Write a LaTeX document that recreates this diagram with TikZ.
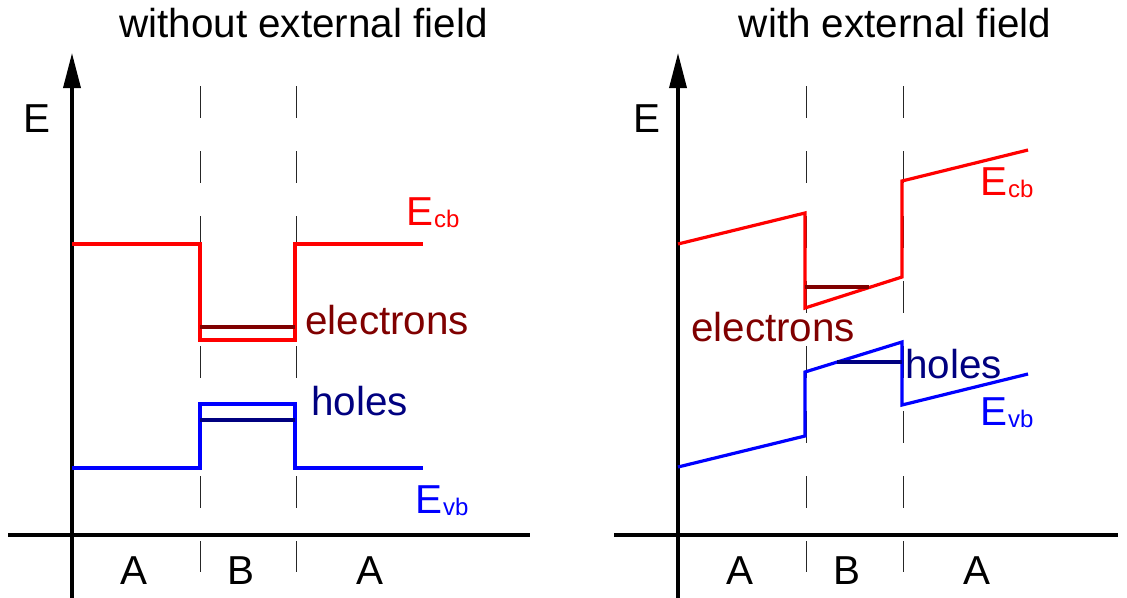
\documentclass[tikz,border=0pt]{standalone}
\usepackage{fontspec}
\setmainfont{Liberation Sans}
\usetikzlibrary{arrows.meta}
\definecolor{cbred}{RGB}{255,0,0}
\definecolor{elecred}{RGB}{128,0,0}
\definecolor{vbblue}{RGB}{0,0,255}
\definecolor{holeblue}{RGB}{0,0,128}
\newcommand{\bandE}[1]{E\kern1pt{\fontsize{24}{24}\selectfont\raisebox{-2pt}{#1}}}

\begin{document}
\begin{tikzpicture}[x=1pt,y=-1pt,
  lab/.style={inner sep=0pt,font=\fontsize{40.4}{48}\selectfont},
  axis/.style={line width=3.5pt},
  sep/.style={line width=1pt,black!85,dash pattern=on 32pt off 33pt},
  band/.style={line width=3.2pt,line join=miter}]
\useasboundingbox (0,0) rectangle (1127,597);
% Titles
\node[lab,anchor=base] (titleL) at (303.5,37) {without external field};
\node[lab,anchor=base] (titleR) at (895,37) {with external field};
% Axes
\draw[axis] (8,535) -- (530,535);
\draw[axis] (614,535) -- (1118,535);
\draw[axis,-{Triangle[length=35pt,width=17pt]}] (72,600) -- (72,53);
\draw[axis,-{Triangle[length=35pt,width=17pt]}] (678,600) -- (678,53);
\node[lab,anchor=base west] (energyL) at (23,132) {E};
\node[lab,anchor=base west] (energyR) at (633,132) {E};
% Layer boundaries
\foreach \x in {200,296,806,903}
  \draw[sep] (\x,86) -- (\x,572);
% Layer names
\foreach \x/\t [count=\i] in {134/A,241/B,370/A,740/A,847/B,977/A}
  \node[lab,anchor=base] (layer\i) at (\x,584) {\t};
% Left panel: flat bands
\draw[band,cbred] (72,244) -- (200,244) -- (200,340) -- (295,340) -- (295,244) -- (423,244);
\draw[band,elecred] (200,327) -- (295,327);
\draw[band,vbblue] (72,468) -- (200,468) -- (200,404) -- (295,404) -- (295,468) -- (423,468);
\draw[band,holeblue] (200,420) -- (295,420);
\node[lab,anchor=base west,text=cbred] (cbL) at (406,225) {\bandE{cb}};
\node[lab,anchor=base west,text=vbblue] (vbL) at (415,513) {\bandE{vb}};
\node[lab,anchor=base west,text=elecred] (elecL) at (305,334) {electrons};
\node[lab,anchor=base west,text=holeblue] (holeL) at (311,415) {holes};
% Right panel: tilted bands
\draw[band,cbred] (678,244) -- (805,213) -- (805,308) -- (902,277) -- (902,181) -- (1028,150);
\draw[band,elecred] (805,287) -- (869,287);
\draw[band,vbblue] (678,467) -- (805,436) -- (805,372) -- (902,342) -- (902,405) -- (1028,374);
\draw[band,holeblue] (837,362) -- (902,362);
\node[lab,anchor=base west,text=cbred] (cbR) at (980,195) {\bandE{cb}};
\node[lab,anchor=base west,text=vbblue] (vbR) at (980,425) {\bandE{vb}};
\node[lab,anchor=base west,text=elecred] (elecR) at (691,341) {electrons};
\node[lab,anchor=base west,text=holeblue] (holeR) at (905,378) {holes};
\end{tikzpicture}
\end{document}
